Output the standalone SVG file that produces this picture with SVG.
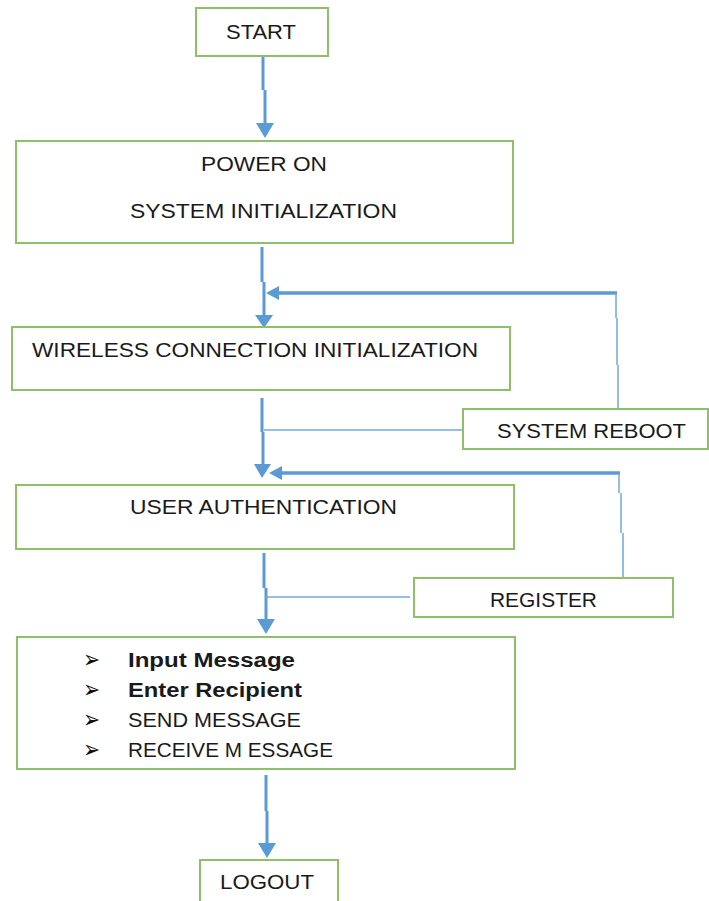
<svg xmlns="http://www.w3.org/2000/svg" width="709" height="901" viewBox="0 0 709 901">
  <style>
    .box { fill: #ffffff; stroke: #8cc168; stroke-width: 2; }
    .lbl { font-family: "Liberation Sans", Arial, sans-serif; font-size: 20px; fill: #1a1a1a; }
    .bold { font-weight: bold; }
    .bul { font-family: "DejaVu Sans", sans-serif; font-size: 25.5px; fill: #111111; }
    .flow { fill: none; stroke: #5b9bd5; stroke-width: 3; }
    .back { fill: none; stroke: #5b9bd5; stroke-width: 3.5; }
    .thin { fill: none; stroke: #6fa8dc; stroke-width: 1.5; }
    .head { fill: #5b9bd5; }
  </style>
  <rect width="709" height="901" fill="#ffffff"/>

  <g id="connectors">
    <!-- START to POWER ON -->
    <path class="flow" d="M263 56 V90 M265 90 V124"/>
    <polygon class="head" points="256,123 274,123 265,138"/>
    <!-- POWER ON to WIRELESS -->
    <path class="flow" d="M262 247 V282 M264 282 V316"/>
    <polygon class="head" points="255,315 273,315 264,328"/>
    <!-- reboot loop back -->
    <path class="back" d="M617 293 H278"/>
    <polygon class="head" points="279,286 279,300 266,293"/>
    <path class="thin" d="M616 293 V318 M617 318 V365 M618 365 V409"/>
    <!-- WIRELESS to USER AUTHENTICATION -->
    <path class="flow" d="M262 398 V432 M263 432 V465"/>
    <polygon class="head" points="254,464 271,464 262,478"/>
    <path class="thin" d="M264 430 H463"/>
    <!-- register loop back -->
    <path class="back" d="M620 473 H281"/>
    <polygon class="head" points="282,466 282,480 269,473"/>
    <path class="thin" d="M619 473 V493 M621 493 V533 M623 533 V578"/>
    <!-- USER AUTHENTICATION to message box -->
    <path class="flow" d="M264 553 V588 M266 588 V620"/>
    <polygon class="head" points="257,619 275,619 266,634"/>
    <path class="thin" d="M266 597 H410"/>
    <!-- message box to LOGOUT -->
    <path class="flow" d="M266 775 V811 M267 811 V844"/>
    <polygon class="head" points="258,843 276,843 267,858"/>
  </g>

  <g id="start">
    <rect class="box" x="196" y="8" width="132" height="48"/>
    <text class="lbl" x="226" y="39" textLength="70" lengthAdjust="spacingAndGlyphs">START</text>
  </g>

  <g id="power-on">
    <rect class="box" x="16" y="141" width="497" height="102"/>
    <text class="lbl" x="201" y="171" textLength="126" lengthAdjust="spacingAndGlyphs">POWER ON</text>
    <text class="lbl" x="130" y="218" textLength="267" lengthAdjust="spacingAndGlyphs">SYSTEM INITIALIZATION</text>
  </g>

  <g id="wireless">
    <rect class="box" x="12" y="327" width="498" height="63"/>
    <text class="lbl" x="32" y="357" textLength="446" lengthAdjust="spacingAndGlyphs">WIRELESS CONNECTION INITIALIZATION</text>
  </g>

  <g id="system-reboot">
    <rect class="box" x="463" y="409" width="245" height="40"/>
    <text class="lbl" x="497" y="438" textLength="189" lengthAdjust="spacingAndGlyphs">SYSTEM REBOOT</text>
  </g>

  <g id="user-auth">
    <rect class="box" x="16" y="485" width="498" height="64"/>
    <text class="lbl" x="130" y="514" textLength="267" lengthAdjust="spacingAndGlyphs">USER AUTHENTICATION</text>
  </g>

  <g id="register">
    <rect class="box" x="414" y="578" width="259" height="39"/>
    <text class="lbl" x="490" y="607" textLength="107" lengthAdjust="spacingAndGlyphs">REGISTER</text>
  </g>

  <g id="messaging">
    <rect class="box" x="17" y="637" width="498" height="132"/>
    <!-- bullet column, narrowed horizontally -->
    <text class="bul" transform="translate(83 0) scale(0.8 1)"><tspan x="0" y="668">➢</tspan><tspan x="0" y="698">➢</tspan><tspan x="0" y="728">➢</tspan><tspan x="0" y="758">➢</tspan></text>
    <text class="lbl bold" x="128" y="667" textLength="167" lengthAdjust="spacingAndGlyphs">Input Message</text>
    <text class="lbl bold" x="128" y="697" textLength="174" lengthAdjust="spacingAndGlyphs">Enter Recipient</text>
    <text class="lbl" x="128" y="727" textLength="173" lengthAdjust="spacingAndGlyphs">SEND MESSAGE</text>
    <text class="lbl" x="128" y="757" textLength="205" lengthAdjust="spacingAndGlyphs">RECEIVE M ESSAGE</text>
  </g>

  <g id="logout">
    <rect class="box" x="200" y="860" width="138" height="45"/>
    <text class="lbl" x="220" y="889" textLength="94" lengthAdjust="spacingAndGlyphs">LOGOUT</text>
  </g>
</svg>
